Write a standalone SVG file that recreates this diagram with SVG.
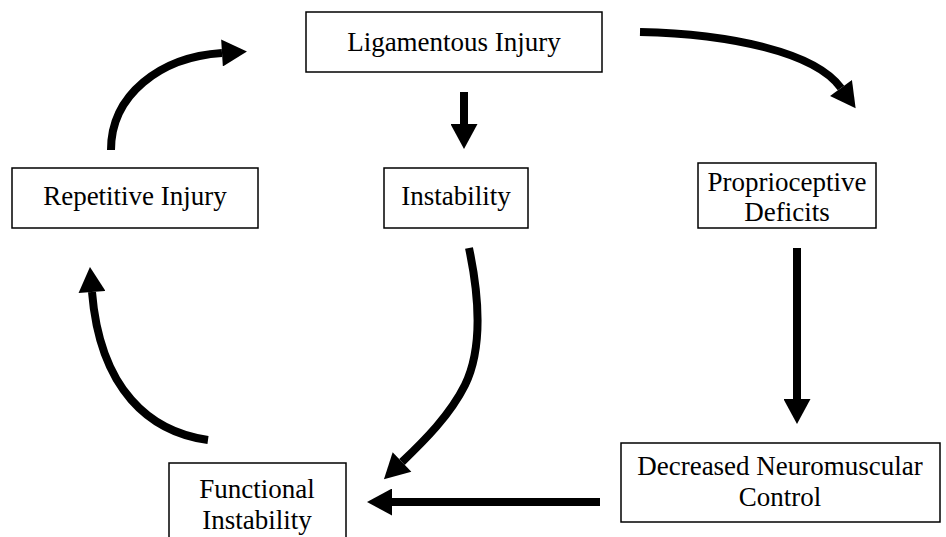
<svg xmlns="http://www.w3.org/2000/svg" width="946" height="537" viewBox="0 0 946 537">
<style>
.box{fill:#fff;stroke:#000;stroke-width:1.5}
.t{font-family:"Liberation Serif","Times New Roman",serif;font-size:27px;fill:#000;text-anchor:middle}
.a{fill:none;stroke:#000;stroke-width:8;marker-end:url(#ah)}
</style>
<defs>
<marker id="ah" markerUnits="userSpaceOnUse" markerWidth="26" markerHeight="27" viewBox="0 0 25 27" refX="0" refY="13.5" orient="auto">
<path d="M0,0 L25,13.5 L0,27 z" fill="#000"/>
</marker>
</defs>
<rect width="946" height="537" fill="#fff"/>
<g id="connectors">
<path class="a" d="M111,150 C111,95 160,57 222,53"/>
<path class="a" d="M640,32 C730,34 815,52 841,88"/>
<path class="a" d="M464,92 L464,124"/>
<path class="a" d="M469,248 C480,300 482,350 465,385 C450,415 425,440 402,462"/>
<path class="a" d="M208,440 C150,432 100,390 92,292"/>
<path class="a" d="M797,248 L797,399"/>
<path class="a" d="M600,502 L392,502"/>
</g>
<g id="ligamentous">
<rect class="box" x="306" y="12" width="296" height="60"/>
<text class="t" x="454" y="51">Ligamentous Injury</text>
</g>
<g id="repetitive">
<rect class="box" x="12" y="168" width="246" height="60"/>
<text class="t" x="135" y="205">Repetitive Injury</text>
</g>
<g id="instability">
<rect class="box" x="384" y="168" width="144" height="60"/>
<text class="t" x="456" y="205">Instability</text>
</g>
<g id="proprioceptive">
<rect class="box" x="698" y="163" width="178" height="65"/>
<text class="t" x="787" y="191">Proprioceptive</text>
<text class="t" x="787" y="221">Deficits</text>
</g>
<g id="decreased">
<rect class="box" x="621" y="443" width="319" height="79"/>
<text class="t" x="780" y="475">Decreased Neuromuscular</text>
<text class="t" x="780" y="506">Control</text>
</g>
<g id="functional">
<rect class="box" x="169" y="463" width="177" height="80"/>
<text class="t" x="257" y="498">Functional</text>
<text class="t" x="257" y="529">Instability</text>
</g>
</svg>
